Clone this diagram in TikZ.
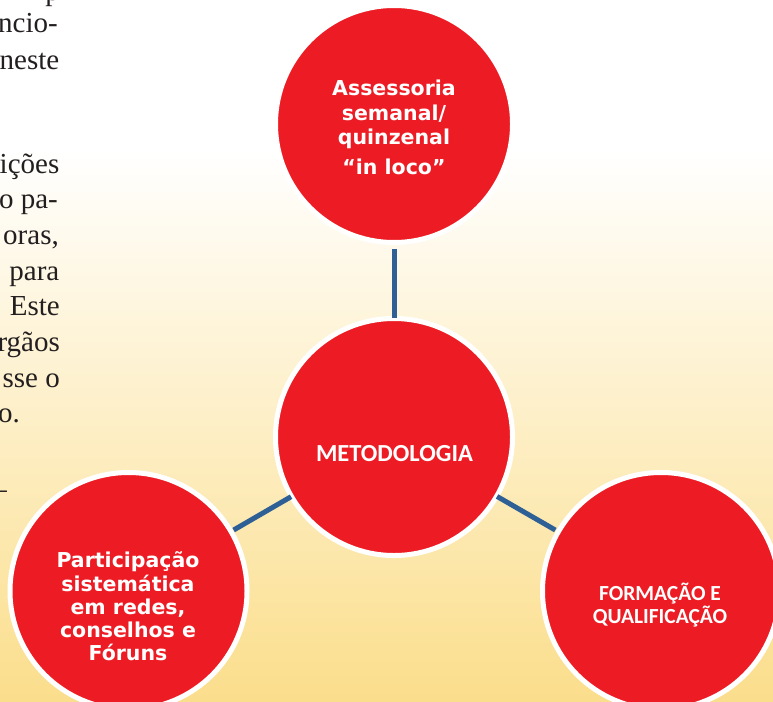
\documentclass[tikz,border=0pt]{standalone}
\usepackage{fontspec}
\setmainfont{Liberation Serif}
\newfontfamily\bubfont{DejaVu Sans}
\newfontfamily\calfont{Carlito}
\definecolor{bubred}{RGB}{237,28,36}
\definecolor{linkblue}{RGB}{46,96,150}
\definecolor{bgbot}{RGB}{251,222,140}
\definecolor{bodytext}{RGB}{35,31,32}
\tikzset{
  bubble/.style={circle, fill=bubred, draw=white, line width=5pt, minimum size=237pt, inner sep=0pt},
  link/.style={draw=linkblue, line width=5pt},
  bodytxt/.style={font=\fontsize{29}{35}\selectfont, text=bodytext, inner sep=0pt, anchor=base east},
  roundtxt/.style={align=center, text=white, inner sep=0pt, font=\bubfont\bfseries\fontsize{20.5}{24.5}\selectfont},
  captxt/.style={align=center, text=white, inner sep=0pt},
}
\begin{document}
\begin{tikzpicture}[x=1pt,y=-1pt]
\useasboundingbox (0,0) rectangle (773,701);
\fill[white] (0,0) rectangle (773,151);
\shade[top color=white, bottom color=bgbot] (0,150) rectangle (773,701);
% body text fragments
\node[bodytxt] (t1) at (60,1) {p};
\node[bodytxt] (t2) at (58,33) {ncio-};
\node[bodytxt] (t3) at (59.5,70) {neste};
\node[bodytxt] (t4) at (59.5,173) {ições};
\node[bodytxt] (t5) at (58,208) {o pa-};
\node[bodytxt] (t6) at (59,244) {oras,};
\node[bodytxt] (t7) at (59.5,280) {para};
\node[bodytxt] (t8) at (60,315) {Este};
\node[bodytxt] (t9) at (60,351) {rgãos};
\node[bodytxt] (t10) at (60,387) {sse o};
\node[bodytxt] (t11) at (20,422) {o.};
\node[bodytxt] (t12) at (7,498) {–};
% circles
\node[bubble] (top) at (394,124) {};
\node[bubble] (mid) at (394,437) {};
\node[bubble] (left) at (128.5,591) {};
\node[bubble] (right) at (661,591) {};
% connectors
\draw[link, shorten <=125pt, shorten >=119pt] (top.center) -- (mid.center);
\draw[link, shorten <=119pt, shorten >=121.5pt] (mid.center) -- (left.center);
\draw[link, shorten <=119pt, shorten >=122pt] (mid.center) -- (right.center);
% texts
\node[roundtxt] (toptxt) at (394,127.5) {Assessoria\\semanal/\\quinzenal\\[5pt]“in loco”};
\node[roundtxt, font=\bubfont\bfseries\fontsize{20.5}{23.2}\selectfont] (lefttxt) at (128,606.5) {Participação\\sistemática\\em redes,\\conselhos e\\Fóruns};
\node[captxt, font=\calfont\bfseries\fontsize{24.5}{28}\selectfont] (midtxt) at (394.5,454) {METODOLOGIA};
\node[captxt, font=\calfont\bfseries\fontsize{21.5}{23}\selectfont] (righttxt) at (660,605.5) {FORMAÇÃO E\\QUALIFICAÇÃO};
\end{tikzpicture}
\end{document}
